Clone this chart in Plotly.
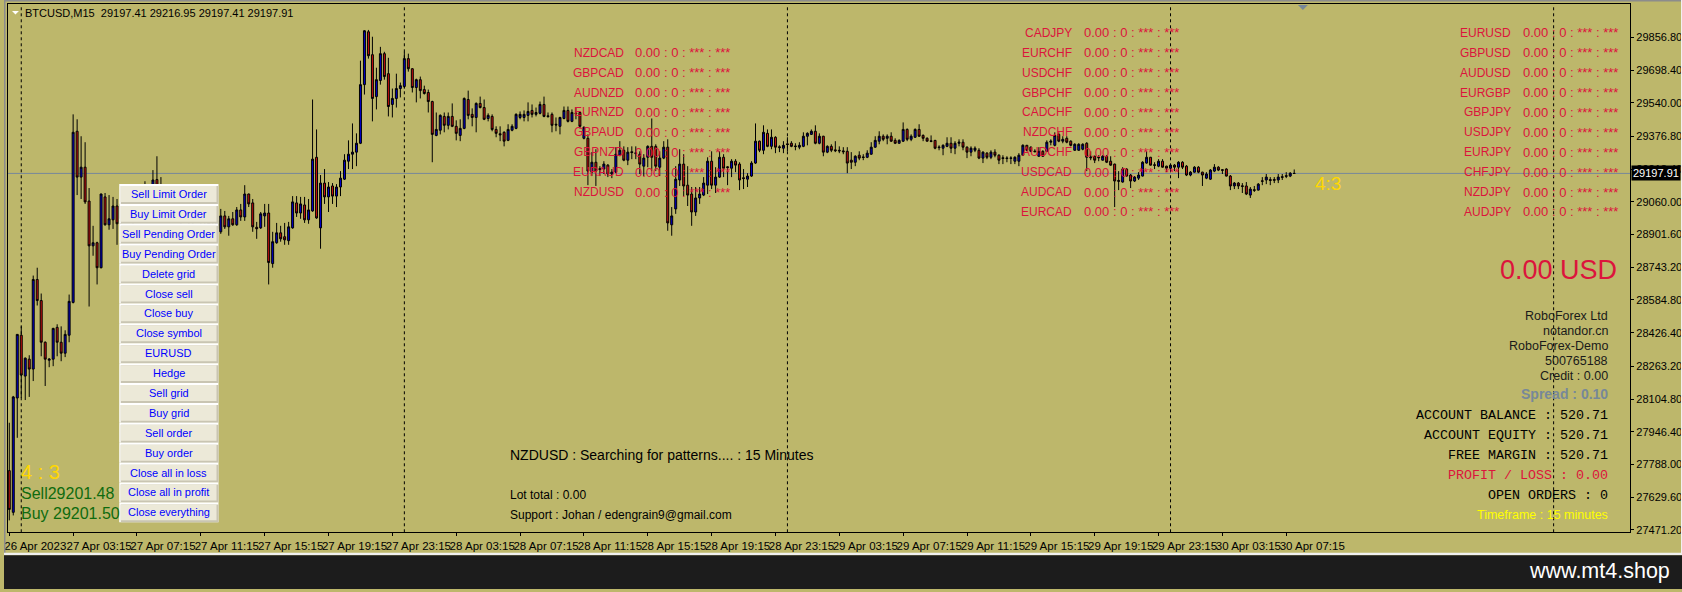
import plotly.graph_objects as go

W = 1682
H = 592

# 15 minute bars
open_ = [
    27758,27556,28110,28414,28216,28298,28250,28684,28582,28380,
    28293,28298,28452,28380,28327,28414,28573,29402,29180,29228,
    29064,28847,28862,28741,29084,28949,28973,29040,28978,29050,
    29010,28985,29030,29060,29035,29110,29130,29168,29090,29050,
    29020,29060,29030,28990,29035,29010,28975,29015,28995,28960,
    28985,28950,28930,28915,28992,28939,28978,28949,29021,28987,
    29098,29055,28937,28934,28992,29006,28761,28862,28910,28891,
    28872,28934,29055,29006,29045,28973,29016,29276,28934,29151,
    29084,29137,29088,29132,29170,29257,29291,29301,29344,29628,
    29884,29773,29570,29648,29778,29681,29532,29561,29609,29619,
    29754,29705,29614,29652,29604,29590,29546,29382,29407,29474,
    29431,29474,29426,29382,29416,29556,29484,29469,29537,29517,
    29464,29474,29411,29390,29397,29358,29407,29416,29469,29469,
    29479,29503,29484,29489,29532,29477,29484,29436,29426,29464,
    29503,29450,29490,29493,29368,29368,29204,29252,29221,29219,
    29238,29195,29204,29286,29310,29262,29303,29298,29291,29233,
    29276,29329,29329,29228,29272,29325,28949,29026,29166,29243,
    29141,29098,29011,29079,29093,29141,29257,29141,29180,29276,
    29230,29223,29257,29243,29177,29170,29185,29248,29354,29310,
    29392,29329,29373,29327,29320,29341,29344,29331,29325,29329,
    29378,29387,29402,29344,29378,29301,29329,29312,29310,29307,
    29305,29262,29252,29286,29278,29276,29291,29325,29354,29378,
    29368,29378,29358,29344,29354,29411,29363,29373,29411,29382,
    29368,29356,29358,29326,29320,29329,29344,29320,29344,29349,
    29325,29301,29310,29310,29272,29296,29276,29301,29286,29274,
    29273,29273,29257,29257,29286,29334,29325,29306,29281,29305,
    29305,29349,29334,29387,29354,29368,29354,29310,29310,29315,
    29344,29278,29281,29277,29262,29281,29257,29243,29164,29156,
    29219,29190,29161,29175,29185,29248,29276,29240,29233,29257,
    29233,29223,29238,29228,29252,29233,29190,29204,29228,29204,
    29175,29170,29209,29228,29216,29219,29185,29137,29151,29138,
    29137,29093,29119,29117,29162,29166,29168,29168,29166,29182,
    29187,29185,29197.41,
]
high = [
    27990,28120,28420,28457,28306,28317,28703,28741,28616,28384,
    28303,28450,28467,28457,28438,28611,29484,29460,29378,29349,
    29127,28944,28867,29100,29103,29093,29084,29074,29084,29090,
    29070,29045,29075,29100,29160,29140,29214,29281,29180,29095,
    29070,29100,29060,29050,29085,29040,29030,29060,29030,29010,
    29020,28995,28985,29026,29016,28992,29011,29035,29050,29141,
    29100,29074,28963,29011,29050,29050,28915,28958,28944,28958,
    28963,29088,29088,29084,29084,29074,29556,29411,29190,29219,
    29156,29151,29146,29209,29291,29358,29440,29392,29744,29892,
    29893,29860,29710,29811,29787,29758,29609,29681,29638,29787,
    29778,29708,29657,29667,29623,29604,29550,29493,29484,29493,
    29493,29537,29455,29460,29566,29599,29513,29542,29570,29556,
    29489,29484,29426,29426,29402,29436,29436,29489,29498,29503,
    29542,29532,29517,29546,29570,29493,29493,29469,29472,29522,
    29522,29508,29517,29496,29426,29387,29301,29315,29233,29257,
    29243,29219,29325,29354,29329,29325,29329,29329,29305,29291,
    29334,29464,29339,29305,29354,29363,29035,29233,29315,29291,
    29233,29132,29132,29132,29180,29276,29305,29228,29305,29291,
    29233,29267,29267,29252,29219,29199,29257,29440,29357,29431,
    29411,29411,29378,29334,29354,29373,29354,29344,29349,29397,
    29397,29411,29431,29392,29380,29334,29339,29354,29329,29325,
    29325,29301,29286,29305,29291,29310,29349,29378,29402,29387,
    29387,29397,29368,29363,29445,29416,29387,29416,29436,29387,
    29373,29382,29360,29334,29339,29373,29373,29354,29363,29363,
    29329,29329,29329,29320,29305,29301,29310,29315,29291,29286,
    29281,29281,29281,29296,29339,29336,29329,29315,29325,29310,
    29358,29363,29397,29397,29378,29378,29358,29344,29344,29344,
    29349,29305,29284,29286,29286,29286,29281,29245,29209,29228,
    29223,29195,29185,29204,29257,29305,29278,29252,29267,29267,
    29235,29243,29243,29257,29257,29238,29209,29233,29233,29206,
    29204,29219,29243,29233,29219,29223,29190,29156,29156,29151,
    29156,29132,29137,29151,29180,29195,29180,29180,29195,29195,
    29204,29204,29216.95,
]
low = [
    27517,27541,27917,28110,28100,28115,28192,28558,28312,28168,
    28259,28264,28312,28288,28308,28380,28568,29093,29074,29050,
    28553,28799,28660,28738,28945,28925,28929,28852,28945,28990,
    28960,28950,28990,29020,29000,29060,29090,29060,29030,29000,
    28980,29010,28970,28950,29000,28950,28930,28980,28940,28920,
    28940,28900,28895,28905,28929,28896,28944,28944,28968,28968,
    29035,28915,28881,28929,28939,28660,28741,28857,28867,28852,
    28852,28930,28987,28978,28958,28954,29012,28978,28833,29050,
    29011,29050,29035,29088,29166,29219,29219,29233,29340,29580,
    29754,29450,29508,29628,29652,29474,29469,29517,29566,29609,
    29691,29590,29542,29561,29580,29493,29252,29378,29387,29397,
    29411,29422,29358,29354,29412,29460,29426,29397,29513,29456,
    29450,29402,29373,29354,29329,29354,29402,29412,29460,29450,
    29450,29469,29474,29484,29470,29469,29397,29402,29387,29460,
    29445,29446,29460,29416,29363,29141,29185,29137,29185,29195,
    29180,29175,29200,29281,29257,29238,29267,29267,29195,29185,
    29228,29209,29209,29185,29267,28920,28896,29002,29137,29088,
    29040,28944,28992,29050,29088,29098,29122,29103,29176,29180,
    29141,29180,29204,29117,29122,29132,29181,29244,29301,29291,
    29325,29315,29296,29301,29296,29305,29325,29310,29315,29325,
    29334,29384,29339,29339,29281,29296,29301,29301,29296,29291,
    29199,29219,29233,29262,29262,29272,29288,29322,29339,29354,
    29339,29350,29340,29342,29350,29354,29354,29370,29375,29354,
    29352,29349,29315,29310,29286,29325,29296,29291,29329,29310,
    29272,29281,29301,29267,29248,29267,29267,29276,29243,29243,
    29252,29243,29243,29233,29283,29305,29301,29301,29278,29278,
    29302,29334,29329,29349,29344,29344,29329,29307,29307,29310,
    29209,29262,29248,29257,29260,29248,29235,29035,29117,29153,
    29183,29127,29156,29166,29183,29245,29236,29219,29228,29226,
    29204,29209,29209,29175,29219,29185,29184,29202,29199,29137,
    29170,29166,29204,29209,29195,29183,29117,29122,29122,29103,
    29093,29079,29108,29115,29141,29146,29141,29151,29151,29166,
    29175,29180,29197.41,
]
close = [
    27570,28115,28418,28221,28303,28250,28684,28582,28380,28298,
    28298,28447,28380,28327,28418,28578,29397,29180,29228,29060,
    28847,28862,28741,29098,28949,28978,29040,28954,29050,29010,
    28985,29030,29060,29035,29110,29130,29166,29090,29050,29020,
    29060,29030,28990,29035,29010,28975,29015,28995,28960,28985,
    28950,28930,28970,28992,28939,28978,28949,29021,28987,29098,
    29050,28939,28930,29002,29006,28766,28867,28910,28881,28876,
    28939,29060,29006,29050,28973,29021,29267,28982,29151,29084,
    29132,29088,29132,29175,29262,29291,29301,29344,29628,29889,
    29768,29561,29652,29778,29667,29522,29561,29609,29623,29754,
    29705,29614,29652,29599,29585,29546,29387,29411,29479,29431,
    29474,29426,29392,29416,29561,29479,29469,29537,29517,29460,
    29479,29411,29392,29385,29354,29411,29426,29484,29484,29484,
    29498,29484,29493,29532,29474,29473,29431,29433,29469,29503,
    29450,29493,29487,29426,29421,29209,29252,29209,29217,29243,
    29195,29204,29291,29310,29262,29301,29299,29294,29243,29272,
    29329,29276,29233,29272,29325,28958,28992,29170,29243,29137,
    29093,29011,29079,29098,29151,29257,29141,29180,29276,29223,
    29226,29257,29238,29166,29173,29185,29248,29354,29310,29397,
    29329,29373,29325,29323,29334,29338,29329,29328,29334,29378,
    29392,29402,29344,29378,29301,29329,29310,29308,29307,29303,
    29248,29252,29281,29272,29275,29296,29325,29358,29378,29363,
    29378,29354,29344,29358,29411,29363,29378,29411,29378,29368,
    29354,29353,29320,29323,29334,29344,29320,29344,29349,29325,
    29301,29320,29320,29272,29301,29276,29301,29286,29262,29270,
    29270,29271,29276,29286,29334,29310,29305,29303,29305,29281,
    29349,29354,29382,29354,29363,29349,29334,29339,29339,29339,
    29276,29274,29262,29274,29281,29252,29238,29161,29160,29219,
    29185,29161,29180,29190,29252,29276,29238,29237,29257,29228,
    29223,29238,29228,29252,29228,29190,29204,29228,29204,29190,
    29195,29214,29228,29214,29213,29185,29137,29151,29137,29135,
    29098,29122,29116,29146,29160,29180,29164,29165,29180,29179,
    29184,29199,29197.91,
]
bars = list(range(len(open_)))

time_labels = [
    "26 Apr 2023",
    "27 Apr 03:15", "27 Apr 07:15", "27 Apr 11:15", "27 Apr 15:15", "27 Apr 19:15", "27 Apr 23:15",
    "28 Apr 03:15", "28 Apr 07:15", "28 Apr 11:15", "28 Apr 15:15", "28 Apr 19:15", "28 Apr 23:15",
    "29 Apr 03:15", "29 Apr 07:15", "29 Apr 11:15", "29 Apr 15:15", "29 Apr 19:15", "29 Apr 23:15",
    "30 Apr 03:15", "30 Apr 07:15",
]
price_ticks = [
    29856.80, 29698.40, 29540.00, 29376.80, 29218.40, 29060.00, 28901.60, 28743.20,
    28584.80, 28426.40, 28263.20, 28104.80, 27946.40, 27788.00, 27629.60, 27471.20,
]
day_bars = [3, 99, 195, 291, 387]
last_price = 29197.91

panel_left = ["NZDCAD", "GBPCAD", "AUDNZD", "EURNZD", "GBPAUD", "GBPNZD", "EURAUD", "NZDUSD"]
panel_mid = ["CADJPY", "EURCHF", "USDCHF", "GBPCHF", "CADCHF", "NZDCHF", "AUDCHF", "USDCAD", "AUDCAD", "EURCAD"]
panel_right = ["EURUSD", "GBPUSD", "AUDUSD", "EURGBP", "GBPJPY", "USDJPY", "EURJPY", "CHFJPY", "NZDJPY", "AUDJPY"]
pair_stats = "0.00 : 0 : *** : ***"

buttons = [
    "Sell Limit Order", "Buy Limit Order", "Sell Pending Order", "Buy Pending Order", "Delete grid",
    "Close sell", "Close buy", "Close symbol", "EURUSD", "Hedge", "Sell grid", "Buy grid",
    "Sell order", "Buy order", "Close all in loss", "Close all in profit", "Close everything",
]

KHAKI = "#BDB76B"
CRIMSON = "#DC143C"
SLATE = "#778899"
NARROW = "Liberation Sans Narrow, Liberation Sans, Arial"
ARIAL = "Liberation Sans, Arial"
MONO = "Liberation Mono, Courier New"


def X(px):
    return px / W


def Y(py):
    return 1 - py / H


def label(px, py, text, color="black", size=12, font=ARIAL, anchor="left", bold=False):
    if bold:
        text = "<b>" + text + "</b>"
    return dict(
        x=X(px), y=Y(py), xref="paper", yref="paper", text=text, showarrow=False,
        xanchor=anchor, yanchor="middle", borderpad=0,
        font=dict(family=font, size=size, color=color),
    )


def rect(x0, y0, x1, y1, color):
    return dict(
        type="rect", xref="paper", yref="paper", x0=X(x0), x1=X(x1), y0=Y(y0), y1=Y(y1),
        fillcolor=color, line=dict(width=0), layer="above",
    )


fig = go.Figure(go.Candlestick(
    x=bars, open=open_, high=high, low=low, close=close,
    increasing=dict(fillcolor="#0000CD", line=dict(color="black", width=1)),
    decreasing=dict(fillcolor="#CC1010", line=dict(color="black", width=1)),
    whiskerwidth=0, hoverinfo="skip",
))

shapes = [
    # window chrome round the chart
    rect(0, 0, W, 1.5, "#8C8C8C"),
    rect(0, 0, 1.5, 556, "#8C8C8C"),
    rect(W - 1, 0, W, 556, "#F0F0F0"),
    rect(0, 555.5, W, 558, "#F0F0F0"),
    rect(0, 558, W, H, "#1C1C1C"),
]
shapes.append(dict(
    type="line", xref="paper", yref="y", x0=X(4), x1=X(1630), y0=last_price, y1=last_price,
    line=dict(color=SLATE, width=1), layer="below",
))
for b in day_bars:
    shapes.append(dict(
        type="line", xref="x", yref="paper", x0=b, x1=b, y0=Y(535), y1=Y(4.5),
        line=dict(color="black", width=1, dash="3px,3px"), layer="below",
    ))
# little markers at the top of the chart
shapes.append(dict(
    type="path", xref="paper", yref="paper", fillcolor=SLATE, line=dict(width=0),
    path=f"M {X(1297)} {Y(5)} L {X(1307)} {Y(5)} L {X(1302)} {Y(10)} Z",
))
shapes.append(dict(
    type="path", xref="paper", yref="paper", fillcolor="white", line=dict(width=0),
    path=f"M {X(8)} {Y(11)} L {X(15)} {Y(11)} L {X(11.5)} {Y(14.5)} Z",
))

annotations = [
    label(20, 13, "BTCUSD,M15&nbsp;&nbsp;29197.41 29216.95 29197.41 29197.91", size=11, font=NARROW),
    dict(
        x=X(1631), y=last_price, xref="paper", yref="y", text=f"{last_price:.2f}", showarrow=False,
        xanchor="left", yanchor="middle", bgcolor="black", borderpad=1,
        font=dict(family=NARROW, size=11, color="white"),
    ),
]

for i, name in enumerate(buttons):
    top = 185 + 20 * i
    shapes.append(rect(115.5, top, 215, top + 20, "white"))
    shapes.append(rect(117, top + 2, 215, top + 20, "#C9C5B2"))
    shapes.append(rect(117, top + 2, 213, top + 18, "#ECE9D8"))
    annotations.append(label(165, top + 10, name, color="#0000FF", size=11, anchor="center"))

for names, right, first_y in [(panel_left, 622, 53), (panel_mid, 1072, 33), (panel_right, 1512, 33)]:
    for i, name in enumerate(names):
        annotations.append(label(right, first_y + 20 * i, name, color=CRIMSON, size=12, anchor="right"))
        annotations.append(label(right + 10, first_y + 20 * i, pair_stats, color=CRIMSON, size=13))

annotations += [
    label(16, 474, "4 : 3", color="#FFD700", size=20),
    label(16, 496, "Sell29201.48", color="#0F6B0F", size=16),
    label(16, 516, "Buy 29201.50", color="#0F6B0F", size=16),
    label(1313, 184, "4:3", color="#FFD700", size=19),
    label(506, 457, "NZDUSD : Searching for patterns.... : 15 Minutes", size=14),
    label(506, 498, "Lot total : 0.00", size=12),
    label(506, 518, "Support : Johan / edengrain9@gmail.com", size=12),
    label(1618, 271, "0.00 USD", color=CRIMSON, size=27, anchor="right"),
    label(1609, 318, "RoboForex Ltd", color="#1A1A1A", size=12.5, anchor="right"),
    label(1609, 333, "notandor.cn", color="#1A1A1A", size=12.5, anchor="right"),
    label(1609, 348, "RoboForex-Demo", color="#1A1A1A", size=12.5, anchor="right"),
    label(1609, 363, "500765188", color="#1A1A1A", size=12.5, anchor="right"),
    label(1609, 378, "Credit : 0.00", color="#1A1A1A", size=12.5, anchor="right"),
    label(1609, 396, "Spread : 0.10", color=SLATE, size=14, anchor="right", bold=True),
    label(1609, 418, "ACCOUNT BALANCE : 520.71", size=13.33, font=MONO, anchor="right"),
    label(1609, 438, "ACCOUNT EQUITY : 520.71", size=13.33, font=MONO, anchor="right"),
    label(1609, 458, "FREE MARGIN : 520.71", size=13.33, font=MONO, anchor="right"),
    label(1609, 478, "PROFIT / LOSS : 0.00", color=CRIMSON, size=13.33, font=MONO, anchor="right"),
    label(1609, 498, "OPEN ORDERS : 0", size=13.33, font=MONO, anchor="right"),
    label(1609, 518, "Timeframe : 15 minutes", color="#FFFF00", size=12.5, anchor="right"),
    label(1671, 574, "www.mt4.shop", color="white", size=21.5, anchor="right"),
]

fig.update_layout(
    width=W, height=H, autosize=False, margin=dict(l=0, r=0, t=0, b=0),
    paper_bgcolor=KHAKI, plot_bgcolor=KHAKI, showlegend=False,
    shapes=shapes, annotations=annotations,
    xaxis=dict(
        domain=[X(4), X(1630)], range=[-0.325, 406.175], rangeslider=dict(visible=False),
        tickmode="array", tickvals=[16 * i for i in range(len(time_labels))], ticktext=time_labels,
        ticks="outside", ticklen=3, tickcolor="black", tickangle=0, ticklabelshift=26,
        tickfont=dict(family=NARROW, size=11.5, color="black"),
        showgrid=False, zeroline=False, showline=True, linecolor="black", mirror=True,
    ),
    yaxis=dict(
        domain=[Y(535), Y(4.5)], range=[27459.3, 30016.3], side="right",
        tickmode="array", tickvals=price_ticks, ticktext=[f"{p:.2f}" for p in price_ticks],
        ticks="outside", ticklen=3, tickcolor="black",
        tickfont=dict(family=NARROW, size=11, color="black"),
        showgrid=False, zeroline=False, showline=True, linecolor="black", mirror=True,
    ),
)

fig.write_html("out.html", config=dict(displayModeBar=False),
               post_script="document.body.style.margin='0';")
